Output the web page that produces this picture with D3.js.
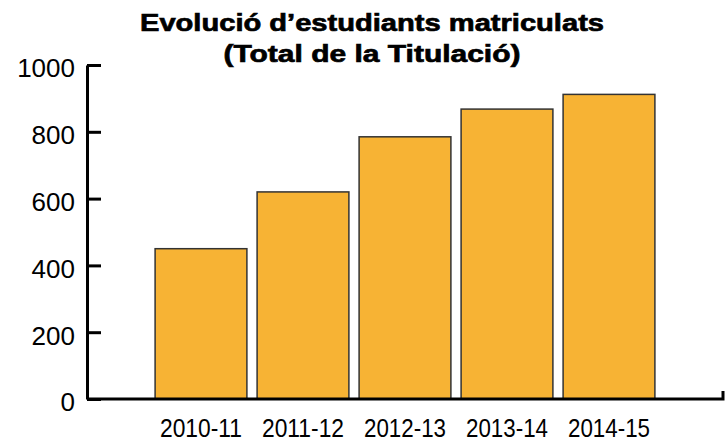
<!DOCTYPE html>
<html>
<head>
<meta charset="utf-8">
<script src="https://cdn.jsdelivr.net/npm/d3@7"></script>
<style>
  html, body { margin: 0; padding: 0; background: #fff; }
  svg { display: block; }
</style>
</head>
<body>
<svg id="chart" width="727" height="443"></svg>
<script>
const categories = ["2010-11", "2011-12", "2012-13", "2013-14", "2014-15"];
const values = [450, 620, 785, 868, 912];
const yTicks = [0, 200, 400, 600, 800, 1000];
const titleLines = ["Evolució d\u2019estudiants matriculats", "(Total de la Titulació)"];

const svg = d3.select("#chart");
const axisLeftX = 87, axisRightX = 723;

const x = d3.scaleBand().domain(categories).range([150, 660]).paddingInner(0.1).paddingOuter(0.05);
const y = d3.scaleLinear().domain([0, 1000]).range([399, 65]);

// Bars
svg.append("g").selectAll("rect").data(values).join("rect")
  .attr("x", (d, i) => x(categories[i]))
  .attr("y", d => y(d))
  .attr("width", x.bandwidth())
  .attr("height", d => y(0) - y(d))
  .attr("fill", "#F7B334")
  .attr("stroke", "#333")
  .attr("stroke-width", 1.5);

// Y axis
const yAxis = svg.append("g").attr("transform", `translate(${axisLeftX},0)`)
  .call(d3.axisLeft(y).tickValues(yTicks).tickFormat(d3.format("d"))
    .tickSizeInner(-14).tickSizeOuter(0).tickPadding(12));
yAxis.select(".domain").attr("stroke", "#000").attr("stroke-width", 3);
yAxis.selectAll(".tick line").attr("stroke", "#000").attr("stroke-width", 3);
yAxis.selectAll(".tick text")
  .attr("font-family", "'Liberation Sans', Arial, sans-serif")
  .attr("font-size", 26)
  .attr("fill", "#000")
  .attr("dy", "0.46em");

// X baseline with right end tick
svg.append("path")
  .attr("d", `M${axisLeftX},${y(0)}H${axisRightX}V${y(0) - 8}`)
  .attr("fill", "none")
  .attr("stroke", "#000")
  .attr("stroke-width", 3);

// X labels
const xAxis = svg.append("g").attr("transform", `translate(0,${y(0)})`)
  .call(d3.axisBottom(x).tickSize(0).tickPadding(0));
xAxis.select(".domain").remove();
xAxis.selectAll(".tick text")
  .attr("y", 38)
  .attr("dy", 0)
  .attr("font-family", "'Liberation Sans', Arial, sans-serif")
  .attr("font-size", 25.5)
  .attr("fill", "#000")
  .attr("textLength", 82)
  .attr("lengthAdjust", "spacingAndGlyphs");

// Title
const titleWidths = [464, 297];
const titleBaselines = [31, 62];
svg.append("g").selectAll("text").data(titleLines).join("text")
  .attr("x", 372)
  .attr("y", (d, i) => titleBaselines[i])
  .attr("text-anchor", "middle")
  .attr("font-family", "'Liberation Sans', Arial, sans-serif")
  .attr("font-weight", "bold")
  .attr("font-size", 24.5)
  .attr("fill", "#000")
  .attr("stroke", "#000")
  .attr("stroke-width", 0.7)
  .attr("textLength", (d, i) => titleWidths[i])
  .attr("lengthAdjust", "spacingAndGlyphs")
  .text(d => d);
</script>
</body>
</html>
